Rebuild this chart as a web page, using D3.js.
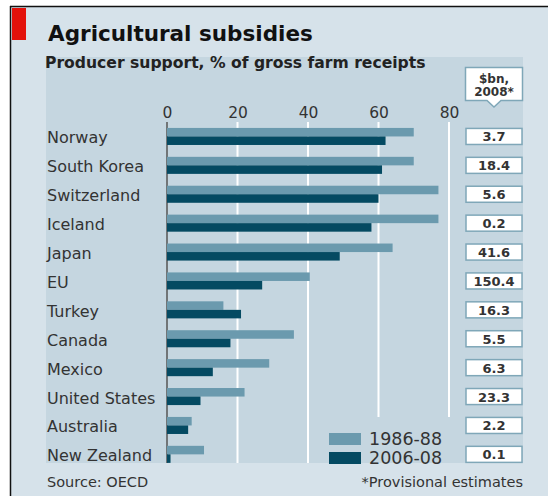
<!DOCTYPE html>
<html>
<head>
<meta charset="utf-8">
<script src="https://cdn.jsdelivr.net/npm/d3@7"></script>
<style>
body { margin: 0; background: #fff; }
text { font-family: "DejaVu Sans", sans-serif; fill: #333; }
</style>
</head>
<body>
<div id="chart"></div>
<script>
// producer support estimates, % of gross farm receipts (OECD)
var countries = ["Norway", "South Korea", "Switzerland", "Iceland", "Japan", "EU",
	"Turkey", "Canada", "Mexico", "United States", "Australia", "New Zealand"];
var support8688 = [70, 70, 77, 77, 64, 40.5, 16, 36, 29, 22, 7, 10.5];
var support0608 = [62, 61, 60, 58, 49, 27, 21, 18, 13, 9.5, 6, 1];
var dollars2008 = ["3.7", "18.4", "5.6", "0.2", "41.6", "150.4", "16.3", "5.5", "6.3", "23.3", "2.2", "0.1"];
var periods = ["1986-88", "2006-08"];
var tickValues = [0, 20, 40, 60, 80];

var width = 548,
	height = 496,
	lightBlue = "#6b9aae",
	darkBlue = "#044a62",
	panelTop = 57,
	panelBottom = 463,
	panelLeft = 46,
	panelRight = 523;

var colour = d3.scaleOrdinal().domain(periods).range([lightBlue, darkBlue]);

var x = d3.scaleLinear().domain([0, 80]).range([167, 449]);

var y = d3.scaleBand()
	.domain(countries)
	.range([122, 468.8])
	.paddingInner(0.41)
	.paddingOuter(0.205);

var ySub = d3.scaleBand().domain(periods).range([0, y.bandwidth()]);

var rows = countries.map(function (c, i) {
	return {name: c, values: [support8688[i], support0608[i]], usd: dollars2008[i]};
});

var svg = d3.select("#chart")
	.append("svg")
	.attr("width", width)
	.attr("height", height);

// outer frame
svg.append("rect")
	.attr("x", 10).attr("y", 6)
	.attr("width", width - 10).attr("height", height - 6)
	.attr("fill", "#d6e2ea");
svg.append("line")
	.attr("x1", 10).attr("x2", width).attr("y1", 6.5).attr("y2", 6.5)
	.attr("stroke", "#111").attr("stroke-width", 1.5);
svg.append("line")
	.attr("x1", 10.5).attr("x2", 10.5).attr("y1", 6).attr("y2", height)
	.attr("stroke", "#111").attr("stroke-width", 1.5);

svg.append("rect")
	.attr("x", 12).attr("y", 8)
	.attr("width", 14).attr("height", 32)
	.attr("fill", "#e3120b");

svg.append("text")
	.attr("x", 48).attr("y", 41)
	.style("font-size", "21.5px")
	.style("font-weight", "bold")
	.style("fill", "#111")
	.text("Agricultural subsidies");

// inner panel
svg.append("rect")
	.attr("x", panelLeft).attr("y", panelTop)
	.attr("width", panelRight - panelLeft).attr("height", panelBottom - panelTop)
	.attr("fill", "#c5d6e0");

svg.append("text")
	.attr("x", 45).attr("y", 68)
	.style("font-size", "15.6px")
	.style("font-weight", "bold")
	.style("fill", "#222")
	.text("Producer support, % of gross farm receipts");

// gridlines, the two on the right stop above the legend
svg.append("g")
	.selectAll("line")
	.data(tickValues)
	.enter()
	.append("line")
	.attr("x1", d => x(d)).attr("x2", d => x(d))
	.attr("y1", 122)
	.attr("y2", d => d >= 60 ? 417 : panelBottom)
	.attr("stroke", d => d === 0 ? "#555" : "#fff")
	.attr("stroke-width", d => d === 0 ? 1.5 : 2);

var axis = svg.append("g")
	.attr("transform", "translate(0,118)")
	.call(d3.axisTop(x).tickValues(tickValues).tickSize(0).tickPadding(0));
axis.select(".domain").remove();
axis.selectAll("text")
	.style("font-family", '"DejaVu Sans", sans-serif')
	.style("font-size", "15.5px")
	.style("fill", "#333");

var row = svg.append("g")
	.selectAll(".row")
	.data(rows)
	.enter()
	.append("g")
	.attr("class", "row")
	.attr("transform", d => "translate(0," + y(d.name) + ")");

row.append("text")
	.attr("x", 47)
	.attr("y", y.bandwidth() / 2 + 7)
	.style("font-size", "16px")
	.text(d => d.name);

row.selectAll("rect.bar")
	.data(d => d.values.map((v, i) => ({period: periods[i], value: v})))
	.enter()
	.append("rect")
	.attr("class", "bar")
	.attr("x", x(0))
	.attr("y", d => ySub(d.period))
	.attr("width", d => x(d.value) - x(0))
	.attr("height", ySub.bandwidth())
	.attr("fill", d => colour(d.period));

// $bn boxes
row.append("rect")
	.attr("x", 466).attr("y", 0.5)
	.attr("width", 56).attr("height", y.bandwidth() - 1)
	.attr("fill", "#fff")
	.attr("stroke", "#7fa7b8")
	.attr("stroke-width", 1.5);

row.append("text")
	.attr("x", 494)
	.attr("y", y.bandwidth() / 2 + 5)
	.attr("text-anchor", "middle")
	.style("font-size", "13px")
	.style("font-weight", "bold")
	.text(d => d.usd);

// callout above the boxes
var callout = svg.append("g");
callout.append("path")
	.attr("d", "M465.5,67.5 H522.5 V100.5 H501 L494,107 L487,100.5 H465.5 Z")
	.attr("fill", "#fff")
	.attr("stroke", "#7fa7b8")
	.attr("stroke-width", 1.5);
callout.append("text")
	.attr("x", 494).attr("y", 83)
	.attr("text-anchor", "middle")
	.style("font-size", "12px")
	.style("font-weight", "bold")
	.text("$bn,");
callout.append("text")
	.attr("x", 494).attr("y", 96)
	.attr("text-anchor", "middle")
	.style("font-size", "12px")
	.style("font-weight", "bold")
	.text("2008*");

// legend
var legend = svg.append("g")
	.selectAll("g")
	.data(periods)
	.enter()
	.append("g")
	.attr("transform", (d, i) => "translate(329," + (433 + i * 19) + ")");
legend.append("rect")
	.attr("width", 32).attr("height", 12)
	.attr("fill", d => colour(d));
legend.append("text")
	.attr("x", 40).attr("y", 12)
	.style("font-size", "17.5px")
	.text(d => d);

svg.append("text")
	.attr("x", 47).attr("y", 487)
	.style("font-size", "14.5px")
	.text("Source: OECD");

svg.append("text")
	.attr("x", 523).attr("y", 487)
	.attr("text-anchor", "end")
	.style("font-size", "14.5px")
	.text("*Provisional estimates");
</script>
</body>
</html>
